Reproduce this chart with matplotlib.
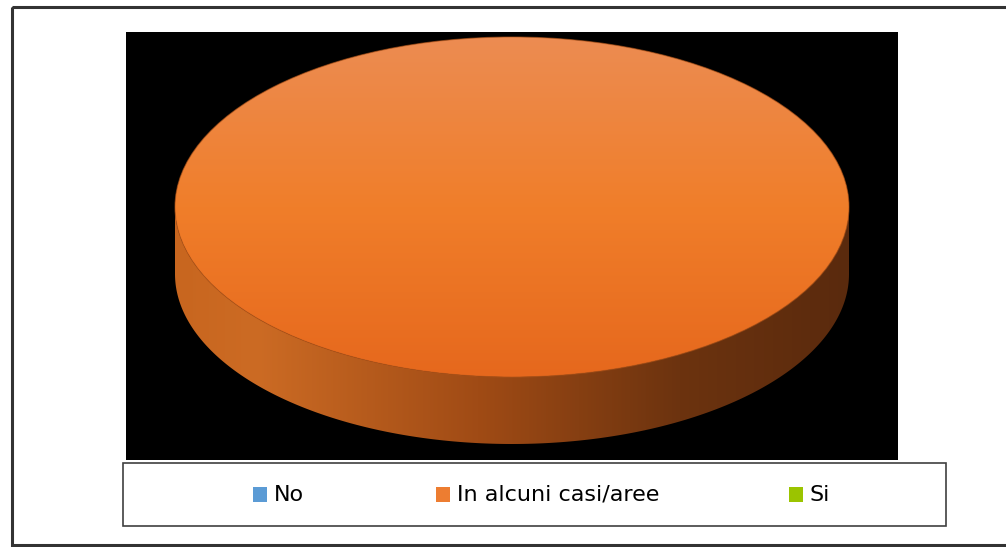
import numpy as np
import matplotlib
matplotlib.use('Agg')
import matplotlib.pyplot as plt
from matplotlib.patches import Rectangle, Polygon, Ellipse
from matplotlib.colors import LinearSegmentedColormap
from matplotlib import font_manager

# narrow font like the Calibri of the original, if one is installed
names = {f.name for f in font_manager.fontManager.ttflist}
narrow = [n for n in ['Liberation Sans Narrow', 'DejaVu Sans Condensed'] if n in names]
plt.rcParams['font.family'] = narrow + ['DejaVu Sans']

categories = ['No', 'In alcuni casi/aree', 'Si']
values = [0, 100, 0]
colors = ['#5B9BD5', '#ED7D31', '#9BC400']

# top gradient (vertical) and side gradient (horizontal)
top_cmap = LinearSegmentedColormap.from_list('top', ['#EC8C52', '#F07E2A', '#E6681D'])
side_cmap = LinearSegmentedColormap.from_list(
    'side', [(0.0, '#C8661F'), (0.12, '#CC6B24'), (0.45, '#A04B15'),
             (0.75, '#6C330F'), (1.0, '#5A2A0D')])

W, H = 1006, 547
fig = plt.figure(figsize=(W / 100, H / 100), dpi=100)
ax = fig.add_axes([0, 0, 1, 1])
ax.set_xlim(0, W)
ax.set_ylim(H, 0)
ax.axis('off')

# outer frame and plot area
ax.add_patch(Rectangle((12, 7), 1010, 538, fill=False, ec='#333333', lw=2.2))
ax.add_patch(Rectangle((126, 32), 772, 428, fc='black', ec='none'))

cx, cy, rx, ry, depth = 512, 207, 337, 170, 67
total = sum(values)
start = 90.0
for val, col in zip(values, colors):
    if val == 0:
        continue
    sweep = 360.0 * val / total
    t = np.radians(np.linspace(start, start - sweep, 400))
    start -= sweep

    # front side: visible where the rim faces the viewer (sin < 0)
    tf = t[np.sin(t) <= 0] if sweep < 360 else np.radians(np.linspace(180, 360, 300))
    xs = cx + rx * np.cos(tf)
    ys = cy - ry * np.sin(tf)
    side = Polygon(np.column_stack([np.r_[xs, xs[::-1]], np.r_[ys, ys[::-1] + depth]]),
                   closed=True, fc='none', ec='none')
    ax.add_patch(side)
    grad = np.linspace(0, 1, 256).reshape(1, -1)
    im = ax.imshow(grad, cmap=side_cmap, extent=(cx - rx, cx + rx, cy + ry + depth, cy),
                   aspect='auto', zorder=2)
    im.set_clip_path(side)

    # top face
    if sweep >= 360:
        top = Ellipse((cx, cy), 2 * rx, 2 * ry, fc='none', ec='none')
    else:
        px = np.r_[cx, cx + rx * np.cos(t)]
        py = np.r_[cy, cy - ry * np.sin(t)]
        top = Polygon(np.column_stack([px, py]), closed=True, fc='none', ec='none')
    ax.add_patch(top)
    gy = np.linspace(0, 1, 256).reshape(-1, 1)
    im2 = ax.imshow(gy, cmap=top_cmap, extent=(cx - rx, cx + rx, cy + ry, cy - ry),
                    aspect='auto', zorder=3)
    im2.set_clip_path(top)
    ax.add_patch(Ellipse((cx, cy), 2 * rx, 2 * ry, fc='none', ec='#B3561A', lw=0.8,
                         alpha=0.6, zorder=4))

# legend
ax.add_patch(Rectangle((123, 463), 823, 63, fc='white', ec='#404040', lw=1.2))
leg_x = [253, 436, 789]
for x, name, col in zip(leg_x, categories, colors):
    ax.add_patch(Rectangle((x, 487), 14, 15, fc=col, ec='none'))
    ax.text(x + 21, 495, name, fontsize=16, va='center', ha='left', color='black')

fig.savefig('out.png', dpi=100)
